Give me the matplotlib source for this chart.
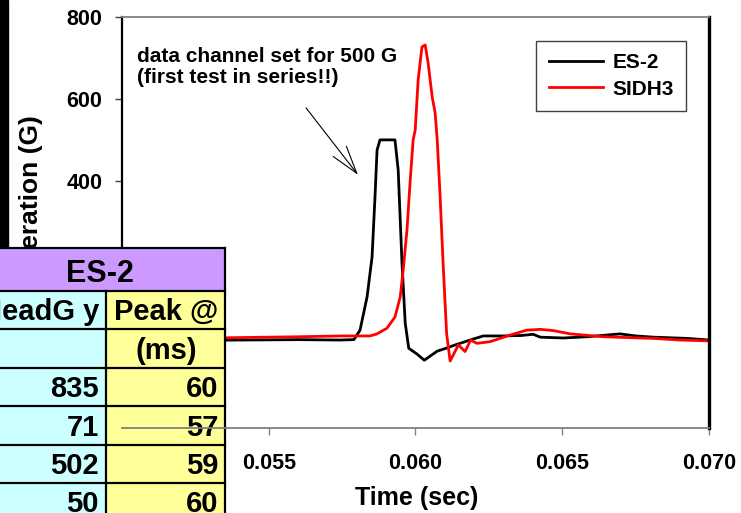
import numpy as np
import matplotlib
matplotlib.use("Agg")
import matplotlib.pyplot as plt
from matplotlib.patches import Rectangle
from matplotlib.lines import Line2D

plt.rcParams['font.family'] = ['Liberation Sans', 'DejaVu Sans']
plt.rcParams['font.weight'] = 'bold'

# ES-2 trace (time in ms, acceleration in G)
es2_ms = [50.0, 52.0, 54.0, 56.0, 57.4, 57.9, 58.11, 58.35, 58.52, 58.62, 58.69, 58.79,
          59.30, 59.41, 59.54, 59.65, 59.77, 60.05, 60.30, 60.74, 61.08, 61.35, 61.86,
          62.31, 62.99, 63.6, 64.01, 64.25, 65.03, 65.85, 66.97, 67.5, 68.10, 69.26, 70.0]
es2_g = [14, 13, 14, 15, 14, 15, 38, 119, 216, 362, 476, 501,
         501, 428, 201, 55, -6, -20, -35, -13, -5, 2, 14,
         24, 24, 25, 28, 21, 19, 22, 29, 24, 21, 18, 14]

# SIDH3 trace
sidh3_ms = [50.0, 52.0, 54.0, 56.0, 57.5, 58.45, 58.69, 59.03, 59.30, 59.48, 59.58, 59.71,
            59.82, 59.92, 59.99, 60.09, 60.22, 60.33, 60.43, 60.57, 60.67, 60.74, 60.84,
            60.94, 61.06, 61.18, 61.46, 61.69, 61.88, 62.09, 62.54, 63.22, 63.79, 64.25,
            64.70, 65.27, 66.40, 68.11, 69.02, 70.0]
sidh3_g = [16, 18, 20, 22, 24, 24, 29, 43, 70, 119, 184, 282,
           403, 501, 525, 647, 727, 732, 688, 605, 566, 501, 362,
           201, 30, -37, 2, -14, 14, 6, 10, 26, 38, 40,
           37, 29, 22, 18, 14, 12]

x_ticks = [0.050, 0.055, 0.060, 0.065, 0.070]
y_ticks = [-200, 0, 200, 400, 600, 800]

table_title = "ES-2"
table_left = ["HeadG y", "", "835", "71", "502", "50"]
table_right = ["Peak @", "(ms)", "60", "57", "59", "60"]

W, H = 741, 513


def fx(px):
    return px / W


def fy(py):
    return 1 - py / H


fig = plt.figure(figsize=(W / 100, H / 100), dpi=100)
ax = fig.add_axes([fx(122), fy(428), (709 - 122) / W, (428 - 17) / H])

ax.plot(np.array(es2_ms) / 1000, es2_g, color='black', lw=2.0, label='ES-2', zorder=2)
ax.plot(np.array(sidh3_ms) / 1000, sidh3_g, color='#ff0000', lw=2.0, label='SIDH3', zorder=2)

ax.set_xlim(0.050, 0.070)
ax.set_ylim(-200, 800)
ax.set_xticks(x_ticks)
ax.set_xticklabels(['%.3f' % v for v in x_ticks])
ax.set_yticks(y_ticks)
ax.tick_params(axis='x', direction='out', length=5, width=1, color='#808080', pad=13, labelsize=15.5)
ax.tick_params(axis='y', direction='out', length=5, width=1, color='#404040', pad=9, labelsize=15.5)

for side in ['top', 'bottom']:
    ax.spines[side].set_color('#808080')
    ax.spines[side].set_linewidth(1.3)
ax.spines['bottom'].set_zorder(3)
ax.spines['left'].set_color('black')
ax.spines['left'].set_linewidth(1.6)
ax.spines['left'].set_zorder(2.1)
ax.spines['right'].set_color('black')
ax.spines['right'].set_linewidth(2.4)

leg = ax.legend(loc='upper right', bbox_to_anchor=(fx(686), fy(41)), bbox_transform=fig.transFigure,
                borderaxespad=0, fontsize=15, handlelength=2.6, handletextpad=0.45,
                labelspacing=0.35, borderpad=0.6, fancybox=False, framealpha=1)
leg.get_frame().set_edgecolor('#404040')
leg.get_frame().set_linewidth(1.0)
for h in leg.get_lines():
    h.set_linewidth(2.0)

# note and arrow
ax.text(0.05051, 727, 'data channel set for 500 G\n(first test in series!!)', fontsize=15,
        ha='left', va='top', linespacing=1.1)
ax.annotate('', xy=(0.05804, 416), xytext=(0.05627, 579),
            arrowprops=dict(arrowstyle='->,head_length=1.0,head_width=0.3', color='black',
                            lw=0.8, mutation_scale=20, shrinkA=0, shrinkB=0))

# axis titles
ax.text(fx(417), fy(486), 'Time (sec)', transform=fig.transFigure, fontsize=18,
        ha='center', va='top', clip_on=False)
ax.text(fx(31), fy(115), 'Acceleration (G)', transform=fig.transFigure, fontsize=19,
        rotation=90, ha='center', va='top', clip_on=False, zorder=2.0)

# black bar on the left edge
ax.add_artist(Rectangle((0, fy(247)), fx(8), 247 / H, transform=fig.transFigure,
                        color='black', clip_on=False, zorder=2.0))

# results table in the lower left
rows = [291, 329, 368, 406, 445, 483, 521]
ax.add_artist(Rectangle((fx(-30), fy(291)), fx(255), (291 - 248) / H, transform=fig.transFigure,
                        facecolor='#cc99ff', edgecolor='none', clip_on=False, zorder=2.2))
ax.add_artist(Rectangle((fx(-30), fy(521)), fx(136), (521 - 291) / H, transform=fig.transFigure,
                        facecolor='#ccffff', edgecolor='none', clip_on=False, zorder=2.2))
ax.add_artist(Rectangle((fx(106), fy(521)), fx(119), (521 - 291) / H, transform=fig.transFigure,
                        facecolor='#ffff99', edgecolor='none', clip_on=False, zorder=2.2))

border = dict(color='black', lw=1.6, transform=fig.transFigure, clip_on=False, zorder=2.25)
for py in [248] + rows:
    ax.add_artist(Line2D([fx(-30), fx(225)], [fy(py), fy(py)], **border))
ax.add_artist(Line2D([fx(225), fx(225)], [fy(248), fy(521)], **border))
ax.add_artist(Line2D([fx(106), fx(106)], [fy(291), fy(521)], **border))

ax.text(fx(100), fy(282), table_title, transform=fig.transFigure, fontsize=22,
        ha='center', va='baseline', clip_on=False, zorder=2.3)
for i, (lt, rt) in enumerate(zip(table_left, table_right)):
    base = rows[i + 1] - 9
    ax.text(fx(99), fy(base), lt, transform=fig.transFigure, fontsize=21,
            ha='right', va='baseline', clip_on=False, zorder=2.3)
    if i < 2:
        ax.text(fx(166), fy(base), rt, transform=fig.transFigure, fontsize=21,
                ha='center', va='baseline', clip_on=False, zorder=2.3)
    else:
        ax.text(fx(218), fy(base), rt, transform=fig.transFigure, fontsize=21,
                ha='right', va='baseline', clip_on=False, zorder=2.3)

fig.savefig('out.png', dpi=100)
